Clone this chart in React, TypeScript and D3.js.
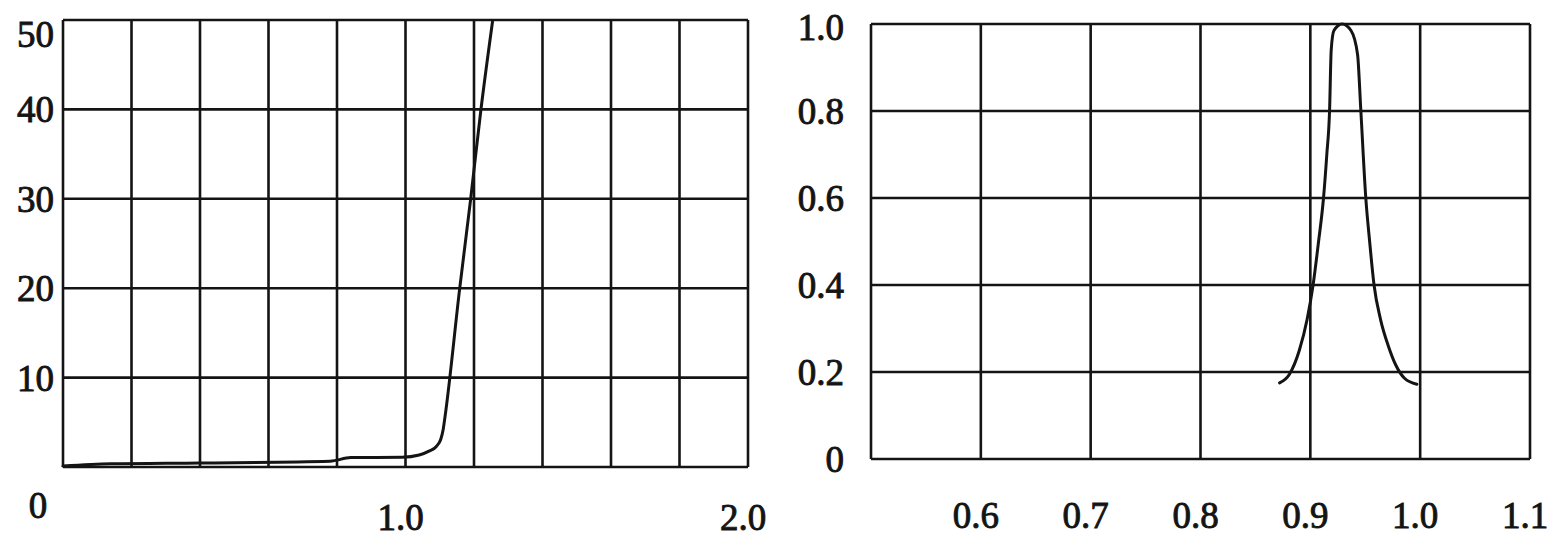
import React, { useRef, useEffect } from 'react';
import * as d3 from 'd3';

// left panel
const leftGridX = [0, 0.2, 0.4, 0.6, 0.8, 1.0, 1.2, 1.4, 1.6, 1.8, 2.0];
const leftGridY = [0, 10, 20, 30, 40, 50];
const leftYLabels = ['10', '20', '30', '40', '50'];
const leftXLabels = ['1.0', '2.0'];
const leftCurveX = [0, 0.14, 0.4, 0.78, 0.84, 0.99, 1.04, 1.07, 1.09, 1.103, 1.11, 1.116, 1.158, 1.19, 1.22, 1.254];
const leftCurveY = [0.1, 0.35, 0.45, 0.65, 1.05, 1.1, 1.35, 1.8, 2.3, 3.1, 4.2, 5.8, 19.9, 29.9, 39.9, 49.8];

// right panel
const rightGridX = [0.5, 0.6, 0.7, 0.8, 0.9, 1.0, 1.1];
const rightGridY = [0, 0.2, 0.4, 0.6, 0.8, 1.0];
const rightXLabels = ['0.6', '0.7', '0.8', '0.9', '1.0', '1.1'];
const rightYLabels = ['0', '0.2', '0.4', '0.6', '0.8', '1.0'];
const rightCurveX = [0.872, 0.881, 0.89, 0.897, 0.9025, 0.9075, 0.912, 0.915, 0.9175, 0.919, 0.9215, 0.929, 0.937, 0.943, 0.946, 0.9505, 0.954, 0.958, 0.964, 0.971, 0.978, 0.986, 0.997];
const rightCurveY = [0.175, 0.195, 0.25, 0.32, 0.4, 0.5, 0.6, 0.7, 0.8, 0.94, 0.985, 1.0, 0.985, 0.93, 0.8, 0.6, 0.5, 0.4, 0.32, 0.26, 0.215, 0.185, 0.172];

const FONT = '"Liberation Serif", "DejaVu Serif", serif';
const INK = '#141414';

const drawPanel = (svg: any, opts: any) => {
  const { box, xDomain, yDomain, gridX, gridY, cx, cy } = opts;
  const x = d3.scaleLinear().domain(xDomain).range([box.left, box.right]);
  const y = d3.scaleLinear().domain(yDomain).range([box.bottom, box.top]);

  const g = svg.append('g');

  g.selectAll('.vgrid')
    .data(gridX)
    .enter()
    .append('line')
    .attr('x1', (d: number) => x(d))
    .attr('x2', (d: number) => x(d))
    .attr('y1', box.top)
    .attr('y2', box.bottom)
    .attr('stroke', INK)
    .attr('stroke-width', 2.6);

  g.selectAll('.hgrid')
    .data(gridY)
    .enter()
    .append('line')
    .attr('x1', box.left)
    .attr('x2', box.right)
    .attr('y1', (d: number) => y(d))
    .attr('y2', (d: number) => y(d))
    .attr('stroke', INK)
    .attr('stroke-width', 2.6);

  const pts = cx.map((v: number, i: number) => [v, cy[i]]);
  const line = d3.line<number[]>()
    .x(d => x(d[0]))
    .y(d => y(d[1]))
    .curve(d3.curveMonotoneX);

  g.append('path')
    .attr('d', line(pts))
    .attr('fill', 'none')
    .attr('stroke', INK)
    .attr('stroke-width', 3)
    .attr('stroke-linecap', 'round');

  return { x, y, g };
};

const addText = (g: any, txt: string, px: number, py: number, anchor: string) => {
  g.append('text')
    .attr('x', px)
    .attr('y', py)
    .attr('text-anchor', anchor)
    .attr('font-family', FONT)
    .attr('font-size', 37)
    .attr('fill', INK)
    .attr('stroke', INK)
    .attr('stroke-width', 0.9)
    .text(txt);
};

const App = () => {
  const ref = useRef<SVGSVGElement>(null);

  useEffect(() => {
    const svg = d3.select(ref.current);
    svg.selectAll('*').remove();

    svg.append('rect').attr('width', 1552).attr('height', 539).attr('fill', '#fff');

    // left chart
    const L = drawPanel(svg, {
      box: { left: 63, right: 748, top: 20, bottom: 467 },
      xDomain: [0, 2.0],
      yDomain: [0, 50],
      gridX: leftGridX,
      gridY: leftGridY,
      cx: leftCurveX,
      cy: leftCurveY,
    });

    leftYLabels.forEach(t => {
      addText(L.g, t, 54, Math.max(L.y(Number(t)), 34) + 13, 'end');
    });
    addText(L.g, '0', L.x(0) - 25, 518, 'middle');
    leftXLabels.forEach(t => {
      addText(L.g, t, L.x(Number(t)) - 5, 530, 'middle');
    });

    // right chart
    const R = drawPanel(svg, {
      box: { left: 871, right: 1530, top: 24, bottom: 459 },
      xDomain: [0.5, 1.1],
      yDomain: [0, 1.0],
      gridX: rightGridX,
      gridY: rightGridY,
      cx: rightCurveX,
      cy: rightCurveY,
    });

    rightYLabels.forEach(t => {
      addText(R.g, t, 844, Math.max(R.y(Number(t)), 27) + 13, 'end');
    });
    rightXLabels.forEach(t => {
      addText(R.g, t, R.x(Number(t)) - 5, 528, 'middle');
    });
  }, []);

  return (
    <svg
      ref={ref}
      width={1552}
      height={539}
      style={{ position: 'absolute', left: 0, top: 0, display: 'block' }}
    ></svg>
  );
};

export default App;
